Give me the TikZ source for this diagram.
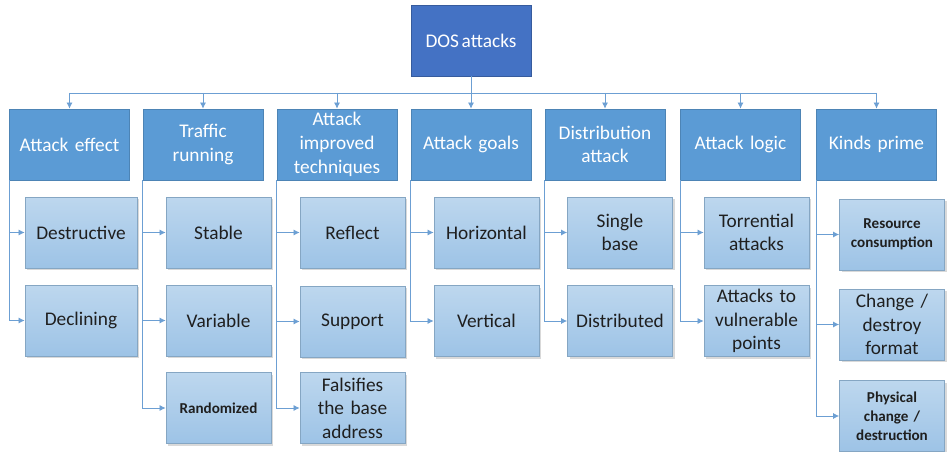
\documentclass[tikz,border=0pt]{standalone}
\usepackage{fontspec}
\setmainfont{Carlito}[WordSpace={0.6,0,0}]
\usetikzlibrary{positioning, shadows, arrows.meta}

\definecolor{rootblue}{HTML}{4472C4}
\definecolor{catblue}{HTML}{5B9BD5}
\definecolor{leaftop}{HTML}{BDD7EE}
\definecolor{leafbot}{HTML}{9DC3E6}
\definecolor{linkblue}{HTML}{6C9FD3}

\tikzset{
  root/.style={draw=rootblue!80!black, fill=rootblue, text=white, minimum width=2.4cm,
    minimum height=1.42cm, align=center, font=\fontsize{11}{13.5}\selectfont},
  cat/.style={draw=catblue!85!black, fill=catblue, text=white, minimum width=2.4cm,
    minimum height=1.42cm, text width=2.3cm, inner sep=0pt, align=center,
    font=\fontsize{11}{13.5}\selectfont},
  leaf/.style={draw=leafbot!85!black, top color=leaftop, bottom color=leafbot,
    text=black!88, minimum width=2.1cm, minimum height=1.42cm, text width=2.05cm,
    inner sep=0pt, align=center, font=\fontsize{11}{13.3}\selectfont,
    drop shadow={opacity=0.3, shadow xshift=1.2pt, shadow yshift=-1.2pt}},
  small/.style={font=\fontsize{8.6}{10.8}\selectfont\bfseries},
  link/.style={draw=linkblue, line width=0.5pt},
  tip/.style={link, -{Latex[length=3.5pt,width=3.5pt]}},
}

\begin{document}
\begin{tikzpicture}[x=0.02cm, y=-0.02cm]
\useasboundingbox (0,0) rectangle (950,452);

% root and first level
\node[root] (dos) at (471,40.5) {DOS attacks};
\coordinate (bus) at (471,93);

\node[cat] (effect)   at (69.5,144.5)  {Attack effect};
\node[cat] (traffic)  at (203,144.5)   {Traffic\\running};
\node[cat] (improved) at (337,144.5)   {Attack\\improved\\techniques};
\node[cat] (goals)    at (471,144.5)   {Attack goals};
\node[cat] (distrib)  at (605,144.5)   {Distribution\\attack};
\node[cat] (logic)    at (740.5,144.5) {Attack logic};
\node[cat] (kinds)    at (876.5,144.5) {Kinds prime};

% second level
\node[leaf, minimum width=2.24cm] (destructive) at (81,232.5) {Destructive};
\node[leaf, minimum width=2.24cm] (declining)   at (81,320.5) {Declining};

\node[leaf] (stable)     at (218.5,232.5) {Stable};
\node[leaf] (variable)   at (218.5,320.5) {Variable};
\node[leaf, small] (randomized) at (218.5,408) {Randomized};

\node[leaf] (reflect)    at (352.5,232.5) {Reflect};
\node[leaf] (support)    at (352.5,321.5) {Support};
\node[leaf] (falsifies)  at (352.5,408)   {Falsifies\\the base\\address};

\node[leaf] (horizontal) at (486.5,232.5) {Horizontal};
\node[leaf] (vertical)   at (486.5,321)   {Vertical};

\node[leaf] (single)      at (620,232.5) {Single\\base};
\node[leaf] (distributed) at (620,321)   {Distributed};

\node[leaf] (torrential) at (756.5,232.5) {Torrential\\attacks};
\node[leaf] (vulnerable) at (756.5,321)   {Attacks to\\vulnerable\\points};

\node[leaf, small] (resource) at (892,234.5) {Resource\\consumption};
\node[leaf] (change)          at (892,324.5) {Change /\\destroy\\format};
\node[leaf, small] (physical) at (892,416)   {Physical\\change /\\destruction};

% connectors
\draw[link] (dos.south) -- (dos.south |- bus);
\draw[link] (effect.north |- bus) -- (kinds.north |- bus);
\foreach \c in {effect,traffic,improved,goals,distrib,logic,kinds}
  \draw[tip] (\c.north |- bus) -- (\c.north);

\foreach \c/\l in {effect/destructive, effect/declining,
    traffic/stable, traffic/variable, traffic/randomized,
    improved/reflect, improved/support, improved/falsifies,
    goals/horizontal, goals/vertical,
    distrib/single, distrib/distributed,
    logic/torrential, logic/vulnerable,
    kinds/resource, kinds/change, kinds/physical}
  \draw[tip] (\c.south west) |- (\l.west);
\end{tikzpicture}
\end{document}
